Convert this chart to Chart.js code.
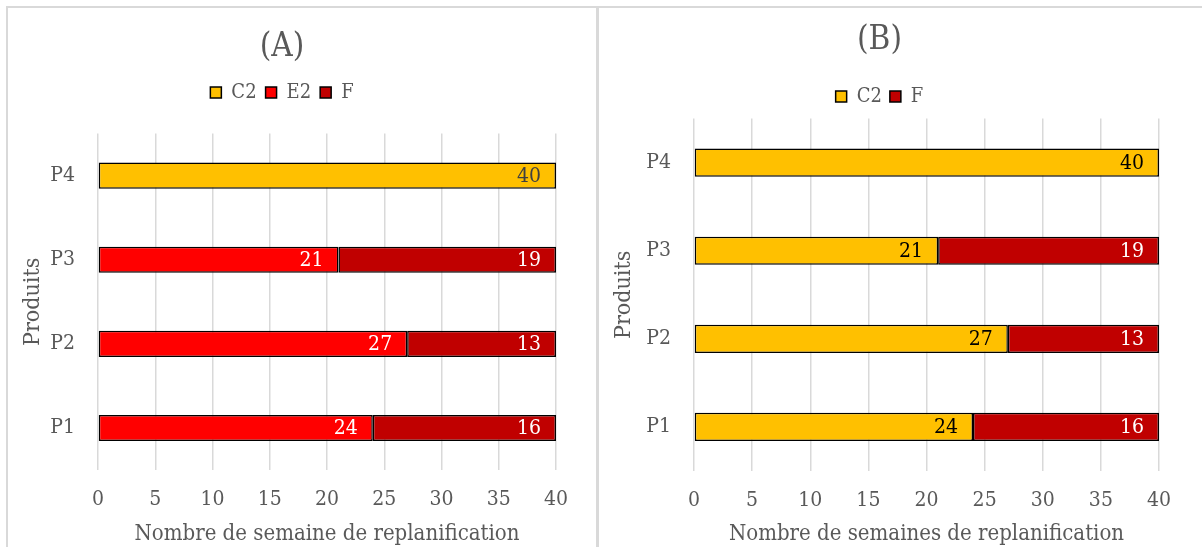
<!DOCTYPE html>
<html>
<head>
<meta charset="utf-8">
<script src="https://cdn.jsdelivr.net/npm/chart.js@4.4.1/dist/chart.umd.min.js"></script>
<style>
  body { margin: 0; background: #fff; width: 1202px; height: 547px; overflow: hidden; position: relative; }
  .panel { position: absolute; border: 2px solid #d9d9d9; box-sizing: border-box; background: #fff; }
  .box { position: absolute; }
</style>
</head>
<body>
<div class="panel" style="left:6px; top:6px; width:592px; height:560px;"></div>
<div class="panel" style="left:597px; top:6px; width:620px; height:560px;"></div>
<div class="box" style="left:8px; top:8px; width:587px; height:539px;"><canvas id="chartA"></canvas></div>
<div class="box" style="left:600px; top:8px; width:602px; height:539px;"><canvas id="chartB"></canvas></div>
<script>
const products = ['P1', 'P2', 'P3', 'P4'];

// (A)
const c2A = [null, null, null, 40];
const e2A = [24, 27, 21, null];
const fA  = [16, 13, 19, null];

// (B)
const c2B = [24, 27, 21, 40];
const fB  = [16, 13, 19, null];

const xTicks = [0, 5, 10, 15, 20, 25, 30, 35, 40];

const YELLOW = '#FFC000';
const RED = '#FF0000';
const DARKRED = '#C00000';
const GREY = '#595959';
const FONT = "'DejaVu Serif Condensed', 'DejaVu Serif', serif";

// writes the value inside the end of each bar segment
const barLabels = {
  id: 'barLabels',
  afterDatasetsDraw(chart) {
    const ctx = chart.ctx;
    ctx.save();
    ctx.font = '21px ' + FONT;
    ctx.textAlign = 'right';
    ctx.textBaseline = 'middle';
    chart.data.datasets.forEach((ds, i) => {
      const meta = chart.getDatasetMeta(i);
      meta.data.forEach((bar, j) => {
        const v = ds.data[j];
        if (v === null || v === undefined) return;
        ctx.fillStyle = ds.labelColor;
        ctx.fillText(String(v), bar.x - 15, bar.y + 1);
      });
    });
    ctx.restore();
  }
};

// extra room between the legend and the plot
const legendGap = {
  id: 'legendGap',
  beforeLayout(chart, args, opts) {
    const lg = chart.legend;
    if (!lg || lg._gapPatched) return;
    const fit = lg.fit;
    lg.fit = function () { fit.call(this); this.height += opts.gap || 0; };
    lg._gapPatched = true;
  }
};

function makeOptions(o) {
  return {
    responsive: true,
    maintainAspectRatio: false,
    animation: false,
    indexAxis: 'y',
    layout: { padding: { left: 0, right: o.right, top: 0, bottom: 0 } },
    plugins: {
      title: {
        display: true, text: o.title, color: GREY,
        font: { family: FONT, size: 33, weight: 'normal' },
        padding: { top: o.titleTop, bottom: o.titleBottom }
      },
      legend: {
        display: true,
        labels: {
          color: GREY, font: { family: FONT, size: 20 },
          boxWidth: 11, boxHeight: 11, padding: o.legendPad
        }
      },
      legendGap: { gap: o.gap },
      tooltip: { enabled: false }
    },
    scales: {
      x: {
        stacked: true, min: 0, max: 40,
        afterBuildTicks: s => { s.ticks = xTicks.map(v => ({ value: v })); },
        afterFit: s => { s.height = o.xHeight; },
        grid: { color: '#d9d9d9', lineWidth: 1.5, drawTicks: false },
        border: { display: false },
        ticks: { color: GREY, font: { family: FONT, size: 21 }, padding: 17 },
        title: {
          display: true, text: o.xTitle, color: GREY,
          font: { family: FONT, size: 22 }, padding: { top: 0, bottom: 0 }
        }
      },
      y: {
        stacked: true, reverse: true,
        afterFit: s => { s.width = o.yWidth; },
        grid: { display: false },
        border: { display: false },
        ticks: { color: GREY, font: { family: FONT, size: 21 }, padding: 15 },
        title: {
          display: true, text: 'Produits', color: GREY,
          font: { family: FONT, size: 23 }, padding: { top: o.yTitlePad, bottom: 0 }
        }
      }
    }
  };
}

function bar(label, data, color, labelColor, pct) {
  return {
    label: label, data: data, backgroundColor: color,
    borderColor: '#000', borderWidth: 1.5, borderSkipped: false,
    categoryPercentage: 1, barPercentage: pct, labelColor: labelColor
  };
}

new Chart(document.getElementById('chartA'), {
  type: 'bar',
  data: {
    labels: products,
    datasets: [
      bar('C2', c2A, YELLOW, '#404040', 0.31),
      bar('E2', e2A, RED, '#ffffff', 0.31),
      bar('F', fA, DARKRED, '#ffffff', 0.31)
    ]
  },
  options: makeOptions({
    title: '(A)', xTitle: 'Nombre de semaine de replanification',
    right: 39, titleTop: 20, titleBottom: 6, legendPad: 9, gap: 21,
    xHeight: 77, yWidth: 90, yTitlePad: 11
  }),
  plugins: [barLabels, legendGap]
});

new Chart(document.getElementById('chartB'), {
  type: 'bar',
  data: {
    labels: products,
    datasets: [
      bar('C2', c2B, YELLOW, '#000000', 0.32),
      bar('F', fB, DARKRED, '#ffffff', 0.32)
    ]
  },
  options: makeOptions({
    title: '(B)', xTitle: 'Nombre de semaines de replanification',
    right: 43, titleTop: 13, titleBottom: 18, legendPad: 8, gap: 2,
    xHeight: 76, yWidth: 94, yTitlePad: 10
  }),
  plugins: [barLabels, legendGap]
});
</script>
</body>
</html>
